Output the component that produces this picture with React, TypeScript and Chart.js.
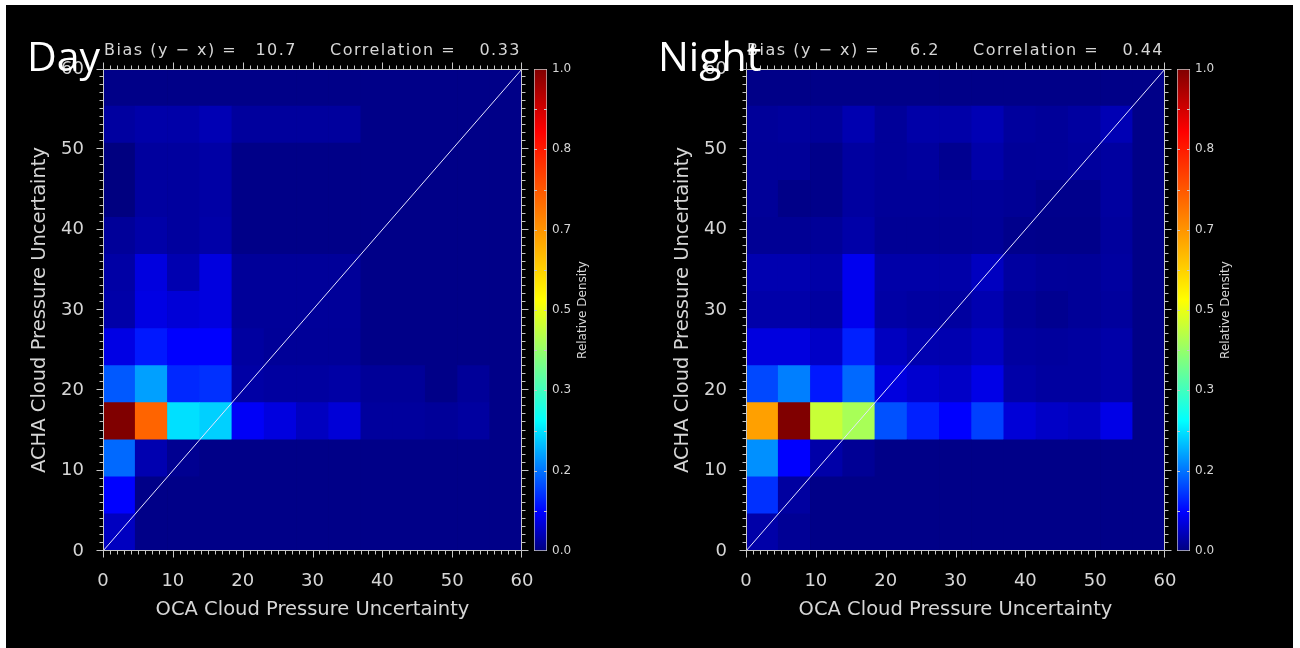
import React, { useEffect, useRef } from "react";
import { Chart, registerables } from "chart.js";

Chart.register(...registerables);

// ---------------- data ----------------
// histogram bin edges (13 bins over 0..60) for both axes
const binEdges = [0, 4.62, 9.23, 13.85, 18.46, 23.08, 27.69, 32.31, 36.92, 41.54, 46.15, 50.77, 55.38, 60];
const axisTickValues = [0, 10, 20, 30, 40, 50, 60];
const colorbarTickValues = [0, 0.0833, 0.1667, 0.25, 0.3333, 0.4167, 0.5, 0.5833, 0.6667, 0.75, 0.8333, 0.9167, 1];

// relative density; rows listed from the top bin (55-60) down to the bottom bin (0-4.6),
// columns from the left bin (0-4.6) to the right bin (55-60)
const dayDensity: number[][] = [
  [0.005, 0.005, 0.005, 0.005, 0.005, 0.005, 0.005, 0.005, 0.005, 0.005, 0.005, 0.005, 0.005],
  [0.02, 0.026, 0.025, 0.033, 0.018, 0.018, 0.018, 0.018, 0.005, 0.005, 0.005, 0.005, 0.005],
  [0.0, 0.019, 0.019, 0.023, 0.005, 0.005, 0.005, 0.005, 0.005, 0.005, 0.005, 0.005, 0.005],
  [0.0, 0.02, 0.019, 0.023, 0.005, 0.005, 0.005, 0.005, 0.005, 0.005, 0.005, 0.005, 0.005],
  [0.016, 0.025, 0.019, 0.025, 0.005, 0.005, 0.005, 0.005, 0.005, 0.005, 0.005, 0.005, 0.005],
  [0.023, 0.06, 0.03, 0.06, 0.016, 0.016, 0.016, 0.016, 0.005, 0.005, 0.005, 0.005, 0.005],
  [0.025, 0.063, 0.055, 0.06, 0.016, 0.016, 0.016, 0.016, 0.005, 0.005, 0.005, 0.005, 0.005],
  [0.063, 0.098, 0.08, 0.08, 0.02, 0.015, 0.015, 0.015, 0.005, 0.005, 0.005, 0.005, 0.005],
  [0.146, 0.199, 0.11, 0.116, 0.023, 0.02, 0.02, 0.023, 0.015, 0.015, 0.005, 0.016, 0.005],
  [1.0, 0.733, 0.247, 0.235, 0.075, 0.06, 0.04, 0.055, 0.018, 0.018, 0.016, 0.02, 0.005],
  [0.158, 0.03, 0.011, 0.005, 0.005, 0.005, 0.005, 0.005, 0.005, 0.005, 0.005, 0.005, 0.005],
  [0.081, 0.005, 0.005, 0.005, 0.005, 0.005, 0.005, 0.005, 0.005, 0.005, 0.005, 0.005, 0.005],
  [0.04, 0.005, 0.005, 0.005, 0.005, 0.005, 0.005, 0.005, 0.005, 0.005, 0.005, 0.005, 0.005],
];

const nightDensity: number[][] = [
  [0.005, 0.005, 0.005, 0.005, 0.005, 0.005, 0.005, 0.005, 0.005, 0.005, 0.005, 0.005, 0.005],
  [0.016, 0.018, 0.016, 0.03, 0.016, 0.025, 0.025, 0.033, 0.018, 0.016, 0.02, 0.033, 0.005],
  [0.015, 0.015, 0.006, 0.02, 0.016, 0.019, 0.01, 0.026, 0.015, 0.016, 0.018, 0.02, 0.005],
  [0.015, 0.005, 0.006, 0.02, 0.015, 0.015, 0.015, 0.016, 0.013, 0.0075, 0.0075, 0.02, 0.005],
  [0.013, 0.013, 0.015, 0.025, 0.013, 0.013, 0.013, 0.015, 0.0075, 0.006, 0.006, 0.018, 0.005],
  [0.03, 0.03, 0.025, 0.07, 0.025, 0.025, 0.025, 0.04, 0.02, 0.016, 0.015, 0.02, 0.005],
  [0.026, 0.026, 0.02, 0.07, 0.023, 0.02, 0.02, 0.03, 0.015, 0.01, 0.015, 0.018, 0.005],
  [0.06, 0.06, 0.045, 0.104, 0.04, 0.03, 0.03, 0.04, 0.02, 0.018, 0.02, 0.025, 0.005],
  [0.134, 0.175, 0.098, 0.158, 0.06, 0.05, 0.045, 0.065, 0.025, 0.02, 0.02, 0.025, 0.005],
  [0.65, 1.0, 0.466, 0.435, 0.14, 0.104, 0.08, 0.128, 0.055, 0.045, 0.04, 0.065, 0.005],
  [0.187, 0.08, 0.025, 0.013, 0.005, 0.005, 0.005, 0.005, 0.005, 0.005, 0.005, 0.005, 0.005],
  [0.116, 0.02, 0.005, 0.005, 0.005, 0.005, 0.005, 0.005, 0.005, 0.005, 0.005, 0.005, 0.005],
  [0.025, 0.013, 0.005, 0.005, 0.005, 0.005, 0.005, 0.005, 0.005, 0.005, 0.005, 0.005, 0.005],
];

const dayBias = 10.7;
const dayCorrelation = 0.33;
const nightBias = 6.2;
const nightCorrelation = 0.44;

// ---------------- style ----------------
const cmapStops = [0, 0.08, 0.27, 0.52, 0.87, 1];
const cmapColors = [
  [0, 0, 128],
  [0, 0, 255],
  [0, 255, 255],
  [255, 255, 0],
  [255, 0, 0],
  [128, 0, 0],
];

const TEXT = "#d6d6d6";
const AXIS = "#c8c8c8";
const FONT = '"DejaVu Sans", sans-serif';

Chart.defaults.color = TEXT;

function rgb(c: number[]) {
  return `rgb(${c[0]},${c[1]},${c[2]})`;
}

function densityColor(v: number) {
  const t = Math.max(0, Math.min(1, v));
  let i = 0;
  while (i < cmapStops.length - 2 && t > cmapStops[i + 1]) i++;
  const f = (t - cmapStops[i]) / (cmapStops[i + 1] - cmapStops[i]);
  const a = cmapColors[i];
  const b = cmapColors[i + 1];
  return rgb(a.map((x, k) => Math.round(x + (b[k] - x) * f)));
}

function buildCells(grid: number[][]) {
  const points: any[] = [];
  const colors: string[] = [];
  const n = grid.length;
  grid.forEach((row, r) => {
    const yi = n - 1 - r;
    row.forEach((v, xi) => {
      points.push({ x: (binEdges[xi] + binEdges[xi + 1]) / 2, y: [binEdges[yi], binEdges[yi + 1]] });
      colors.push(densityColor(v));
    });
  });
  return { points, colors };
}

function framePlugin(panel: string, bias: number, corr: number, labelX: number) {
  return {
    id: "idlFrame",
    afterDraw(chart: any) {
      const { ctx, chartArea: a, scales } = chart;
      const xs = scales.x;
      const ys = scales.y;
      const L = Math.round(a.left) + 0.5;
      const R = Math.round(a.right) - 0.5;
      const T = Math.round(a.top) + 0.5;
      const B = Math.round(a.bottom) - 0.5;
      ctx.save();
      ctx.strokeStyle = AXIS;
      ctx.lineWidth = 1;
      ctx.beginPath();
      ctx.rect(L, T, R - L, B - T);
      ctx.stroke();
      ctx.beginPath();
      for (let v = 0; v <= 60; v += 1) {
        const len = v % 10 === 0 ? 7 : 4;
        let px = Math.round(xs.getPixelForValue(v)) + 0.5;
        px = Math.min(Math.max(px, L), R);
        ctx.moveTo(px, B);
        ctx.lineTo(px, B + len);
        ctx.moveTo(px, T);
        ctx.lineTo(px, T - len);
        let py = Math.round(ys.getPixelForValue(v)) - 0.5;
        py = Math.min(Math.max(py, T), B);
        ctx.moveTo(L, py);
        ctx.lineTo(L - len, py);
        ctx.moveTo(R, py);
        ctx.lineTo(R + len, py);
      }
      ctx.stroke();

      ctx.fillStyle = TEXT;
      ctx.font = `16px ${FONT}`;
      ctx.textBaseline = "alphabetic";
      (ctx as any).letterSpacing = "1.5px";
      ctx.textAlign = "left";
      ctx.fillText("Bias (y \u2212 x) =", a.left + 1, 55);
      ctx.textAlign = "right";
      ctx.fillText(bias.toFixed(1), a.left + 194, 55);
      ctx.textAlign = "left";
      ctx.fillText("Correlation =", a.left + 227, 55);
      ctx.textAlign = "right";
      ctx.fillText(corr.toFixed(2), a.right - 1, 55);

      (ctx as any).letterSpacing = "0px";
      ctx.fillStyle = "#ffffff";
      ctx.font = `41px "Open Sans", sans-serif`;
      ctx.textAlign = "left";
      ctx.fillText(panel, labelX, 71);
      ctx.restore();
    },
  };
}

function heatConfig(grid: number[][], bias: number, corr: number, panel: string, labelX: number): any {
  const { points, colors } = buildCells(grid);
  return {
    type: "bar",
    data: {
      datasets: [
        {
          type: "line",
          data: [
            { x: 0, y: 0 },
            { x: 60, y: 60 },
          ],
          borderColor: "#e4e4ff",
          borderWidth: 1,
          pointRadius: 0,
          order: 0,
        },
        {
          type: "bar",
          data: points,
          backgroundColor: colors,
          borderWidth: 0,
          barPercentage: 1,
          categoryPercentage: 1,
          order: 1,
        },
      ],
    },
    options: {
      responsive: false,
      animation: false,
      devicePixelRatio: 1,
      layout: { padding: { left: 0, right: 40, top: 69, bottom: 0 } },
      plugins: { legend: { display: false }, tooltip: { enabled: false }, title: { display: false } },
      scales: {
        x: {
          type: "linear",
          min: 0,
          max: 60,
          offset: false,
          grid: { display: false, drawTicks: false, offset: false },
          border: { display: false },
          afterBuildTicks: (s: any) => {
            s.ticks = axisTickValues.map((v) => ({ value: v }));
          },
          ticks: { color: TEXT, font: { family: FONT, size: 18 }, padding: 20, maxRotation: 0, autoSkip: false },
          title: {
            display: true,
            text: "OCA Cloud Pressure Uncertainty",
            color: TEXT,
            font: { family: FONT, size: 19.5 },
            padding: { top: 0, bottom: 26 },
          },
          afterFit: (s: any) => {
            s.height = 97;
          },
        },
        y: {
          type: "linear",
          min: 0,
          max: 60,
          grid: { display: false, drawTicks: false },
          border: { display: false },
          afterBuildTicks: (s: any) => {
            s.ticks = axisTickValues.map((v) => ({ value: v }));
          },
          ticks: { color: TEXT, font: { family: FONT, size: 18 }, padding: 19, autoSkip: false },
          title: {
            display: true,
            text: "ACHA Cloud Pressure Uncertainty",
            color: TEXT,
            font: { family: FONT, size: 19.5 },
            padding: { top: 28, bottom: 0 },
          },
          afterFit: (s: any) => {
            s.width = 103;
          },
        },
      },
    },
    plugins: [framePlugin(panel, bias, corr, labelX)],
  };
}

const colorbarPlugin = {
  id: "cbDecor",
  afterDraw(chart: any) {
    const { ctx, chartArea: a, scales } = chart;
    const y = scales.y;
    ctx.save();
    ctx.strokeStyle = AXIS;
    ctx.lineWidth = 1;
    ctx.beginPath();
    colorbarTickValues.forEach((v) => {
      if (v <= 0 || v >= 1) return;
      const py = Math.round(y.getPixelForValue(v)) + 0.5;
      ctx.moveTo(a.left, py);
      ctx.lineTo(a.left + 3, py);
      ctx.moveTo(a.right - 3, py);
      ctx.lineTo(a.right, py);
    });
    ctx.stroke();
    ctx.translate(a.right + 36, (a.top + a.bottom) / 2);
    ctx.rotate(-Math.PI / 2);
    ctx.font = `12px ${FONT}`;
    ctx.fillStyle = TEXT;
    ctx.textAlign = "center";
    ctx.textBaseline = "middle";
    ctx.fillText("Relative Density", 0, 0);
    ctx.restore();
  },
};

function colorbarConfig(): any {
  return {
    type: "bar",
    data: {
      labels: ["Relative Density"],
      datasets: [
        {
          data: [[0, 1]],
          backgroundColor: (c: any) => {
            const chart = c.chart;
            const ys = chart.scales && chart.scales.y;
            if (!chart.chartArea || !ys) return rgb(cmapColors[0]);
            const g = chart.ctx.createLinearGradient(0, ys.getPixelForValue(0), 0, ys.getPixelForValue(1));
            cmapStops.forEach((s, i) => g.addColorStop(s, rgb(cmapColors[i])));
            return g;
          },
          borderColor: AXIS,
          borderWidth: 1,
          borderSkipped: false,
          barPercentage: 1,
          categoryPercentage: 1,
        },
      ],
    },
    options: {
      responsive: false,
      animation: false,
      devicePixelRatio: 1,
      layout: { padding: { left: 9, right: 0, top: 69, bottom: 97 } },
      plugins: { legend: { display: false }, tooltip: { enabled: false } },
      scales: {
        x: { display: false },
        y: {
          position: "right",
          min: 0,
          max: 1,
          grid: { display: false, drawTicks: false },
          border: { display: false },
          afterBuildTicks: (s: any) => {
            s.ticks = colorbarTickValues.map((v) => ({ value: v }));
          },
          ticks: {
            color: TEXT,
            font: { family: FONT, size: 12 },
            padding: 5,
            autoSkip: false,
            callback: (v: any, i: number) => (i % 2 === 0 ? Number(v).toFixed(1) : ""),
          },
          afterFit: (s: any) => {
            s.width = 88;
          },
        },
      },
    },
    plugins: [colorbarPlugin],
  };
}

function ChartCanvas({ left, width, make }: { left: number; width: number; make: () => any }) {
  const ref = useRef<HTMLCanvasElement>(null);
  useEffect(() => {
    const chart = new Chart(ref.current as HTMLCanvasElement, make());
    return () => chart.destroy();
  }, []);
  return (
    <canvas
      ref={ref}
      width={width}
      height={648}
      style={{ position: "absolute", left, top: 0, width, height: 648 }}
    />
  );
}

export default function App() {
  return (
    <div style={{ position: "absolute", left: 0, top: 0, width: 1300, height: 648, background: "#fff", overflow: "hidden" }}>
      <div style={{ position: "absolute", left: 6, top: 5, width: 1287, height: 643, background: "#000" }} />
      <ChartCanvas left={0} width={562} make={() => heatConfig(dayDensity, dayBias, dayCorrelation, "Day", 27)} />
      <ChartCanvas left={525} width={110} make={() => colorbarConfig()} />
      <ChartCanvas left={643} width={562} make={() => heatConfig(nightDensity, nightBias, nightCorrelation, "Night", 15)} />
      <ChartCanvas left={1168} width={110} make={() => colorbarConfig()} />
    </div>
  );
}
